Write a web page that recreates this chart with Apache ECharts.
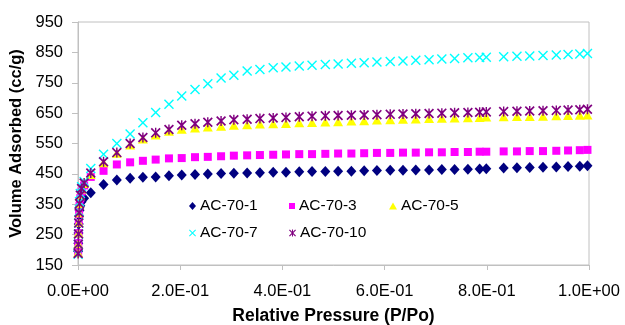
<!DOCTYPE html>
<html>
<head>
<meta charset="utf-8">
<script src="https://cdn.jsdelivr.net/npm/echarts@6/dist/echarts.min.js"></script>
<style>html,body{margin:0;padding:0;background:#fff}#c{width:625px;height:325px}</style>
</head>
<body>
<div id="c"></div>
<script>
// Relative pressure points (P/Po)
var lowPressure = [0.0003, 0.0006, 0.001, 0.0015, 0.0022, 0.003, 0.0045, 0.007, 0.012];
var mainPressure = [0.025, 0.05, 0.076, 0.102, 0.127, 0.152, 0.178, 0.203, 0.229, 0.254,
  0.28, 0.305, 0.331, 0.356, 0.382, 0.407, 0.433, 0.458, 0.484, 0.509,
  0.535, 0.56, 0.585, 0.611, 0.636, 0.661, 0.687, 0.712, 0.737, 0.763,
  0.786, 0.799, 0.833, 0.859, 0.884, 0.91, 0.936, 0.959, 0.982, 0.997];

var seriesNames = ['AC-70-1', 'AC-70-3', 'AC-70-5', 'AC-70-7', 'AC-70-10'];

var ac70_1_low = [195, 222, 255, 285, 312, 330, 345, 358, 370];
var ac70_1 = [388, 415, 430, 436, 439, 440, 444, 446, 448, 450,
  451, 452, 453, 454, 455, 455, 457, 458, 458, 459,
  459, 460, 461, 462, 462, 463, 463, 464, 464, 465,
  466, 467, 469, 470, 471, 472, 473, 474, 475, 477];

var ac70_3_low = [192, 222, 255, 288, 318, 345, 370, 392, 412];
var ac70_3 = [440, 460, 481, 488, 493, 497, 501, 502, 505, 506,
  508, 510, 511, 512, 513, 514, 515, 515, 516, 517,
  517, 518, 519, 519, 520, 520, 521, 521, 522, 522,
  523, 523, 524, 524, 525, 525, 526, 527, 528, 529];

var ac70_5_low = [190, 220, 255, 290, 322, 352, 378, 400, 418];
var ac70_5 = [448, 487, 518, 545, 565, 578, 590, 597, 601, 604,
  607, 610, 612, 614, 615, 616, 618, 619, 621, 622,
  624, 625, 627, 628, 630, 631, 632, 633, 634, 635,
  636, 637, 638, 639, 639, 640, 641, 642, 643, 644];

var ac70_7_low = [185, 218, 252, 288, 325, 358, 385, 408, 425];
var ac70_7 = [468, 515, 550, 581, 618, 652, 679, 706, 728, 747,
  766, 775, 789, 794, 799, 802, 805, 808, 810, 812,
  814, 816, 818, 820, 822, 824, 826, 828, 830, 832,
  833, 834, 836, 837, 838, 840, 841, 843, 845, 846];

var ac70_10_low = [188, 218, 252, 288, 322, 352, 380, 402, 420];
var ac70_10 = [453, 490, 520, 550, 570, 585, 596, 610, 615, 620,
  624, 628, 630, 632, 634, 636, 638, 640, 641, 642,
  643, 644, 645, 646, 647, 648, 649, 650, 651, 652,
  653, 654, 655, 656, 657, 658, 659, 660, 661, 663];

var yTicks = {min: 150, max: 950, interval: 100};
var xTicks = {min: 0, max: 1, interval: 0.2};

function pts(low, main) {
  var out = [];
  for (var i = 0; i < lowPressure.length; i++) out.push([lowPressure[i], low[i]]);
  for (var j = 0; j < mainPressure.length; j++) out.push([mainPressure[j], main[j]]);
  return out;
}

var xPath = 'path://M0,1 L1,0 L5,4 L9,0 L10,1 L6,5 L10,9 L9,10 L5,6 L1,10 L0,9 L4,5 Z';
var starPath = 'path://M0,1.2 L1.2,0 L5,3.8 L8.8,0 L10,1.2 L6.2,5 L10,8.8 L8.8,10 L5,6.2 L1.2,10 L0,8.8 L3.8,5 Z M4.3,0 L5.7,0 L5.7,10 L4.3,10 Z';

var colors = ['#000080', '#FF00FF', '#FFFF00', '#00FFFF', '#800080'];
var symbols = ['diamond', 'rect', 'triangle', xPath, starPath];
var sizes = [[10, 11], 8, [10, 9], 10, 10];
var legendSizes = [[7, 8], [6, 6], [8, 7], [7, 7], [7, 8]];
var datas = [pts(ac70_1_low, ac70_1), pts(ac70_3_low, ac70_3), pts(ac70_5_low, ac70_5),
  pts(ac70_7_low, ac70_7), pts(ac70_10_low, ac70_10)];
var legendPos = [[189, 198], [289, 198], [389, 198], [189, 225], [289, 225]];

function fmtE(v) {
  if (Math.abs(v) < 1e-12) return '0.0E+00';
  var e = Math.floor(Math.log10(v) + 1e-9);
  var m = v / Math.pow(10, e);
  var s = e < 0 ? '-' : '+';
  var a = Math.abs(e);
  return m.toFixed(1) + 'E' + s + (a < 10 ? '0' + a : a);
}

var FONT = 'Liberation Sans, Arial, sans-serif';
var series = [], legends = [];
for (var k = 0; k < seriesNames.length; k++) {
  series.push({
    name: seriesNames[k], type: 'scatter', data: datas[k],
    symbol: symbols[k], symbolSize: sizes[k],
    itemStyle: {color: colors[k], opacity: 1},
    emphasis: {disabled: true}, silent: true, clip: false
  });
  legends.push({
    data: [{name: seriesNames[k], icon: symbols[k]}],
    left: legendPos[k][0], top: legendPos[k][1],
    itemWidth: legendSizes[k][0], itemHeight: legendSizes[k][1],
    padding: 0, selectedMode: false,
    textStyle: {fontFamily: FONT, fontSize: 15.5, color: '#000', padding: [0, 0, 0, -1]}
  });
}

var chart = echarts.init(document.getElementById('c'), null, {renderer: 'canvas'});
chart.setOption({
  animation: false,
  backgroundColor: '#fff',
  legend: legends,
  grid: {left: 78, right: 36, top: 22, bottom: 60, containLabel: false, outerBoundsMode: 'none',
    show: true, borderColor: '#c0c0c0', borderWidth: 1, backgroundColor: 'transparent'},
  xAxis: {
    type: 'value', min: xTicks.min, max: xTicks.max, interval: xTicks.interval,
    name: 'Relative Pressure (P/Po)', nameLocation: 'middle', nameGap: 42,
    nameTextStyle: {fontFamily: FONT, fontSize: 17.5, fontWeight: 'bold', color: '#000'},
    axisLine: {show: true, lineStyle: {color: '#c0c0c0', width: 1}},
    axisTick: {show: true, length: 5, lineStyle: {color: '#c0c0c0'}},
    splitLine: {show: false},
    axisLabel: {formatter: fmtE, fontFamily: FONT, fontSize: 16.5, color: '#000', margin: 18}
  },
  yAxis: {
    type: 'value', min: yTicks.min, max: yTicks.max, interval: yTicks.interval,
    name: 'Volume Adsorbed (cc/g)', nameLocation: 'middle', nameGap: 53,
    nameTextStyle: {fontFamily: FONT, fontSize: 16.5, fontWeight: 'bold', color: '#000'},
    axisLine: {show: true, lineStyle: {color: '#c0c0c0', width: 1}},
    axisTick: {show: true, length: 6, lineStyle: {color: '#c0c0c0'}},
    splitLine: {show: false},
    axisLabel: {fontFamily: FONT, fontSize: 16.5, color: '#000', margin: 15}
  },
  series: series
});
</script>
</body>
</html>
